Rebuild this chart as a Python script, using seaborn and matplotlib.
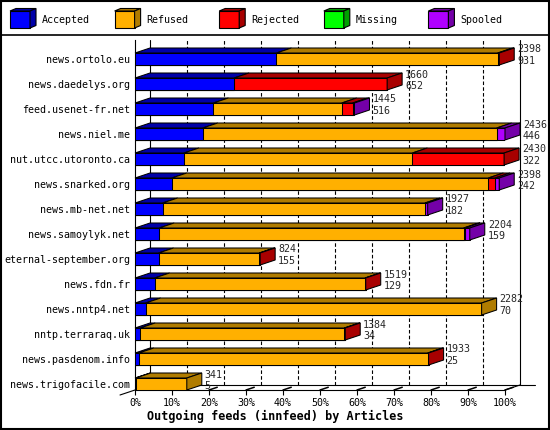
import numpy as np
import pandas as pd
import matplotlib
matplotlib.use("Agg")
import matplotlib.pyplot as plt
from matplotlib.patches import Polygon, Rectangle
import seaborn as sns

# --------------------------------------------------------------
# Data
# --------------------------------------------------------------
servers = [
    "news.ortolo.eu", "news.daedelys.org", "feed.usenet-fr.net", "news.niel.me",
    "nut.utcc.utoronto.ca", "news.snarked.org", "news.mb-net.net", "news.samoylyk.net",
    "eternal-september.org", "news.fdn.fr", "news.nntp4.net", "nntp.terraraq.uk",
    "news.pasdenom.info", "news.trigofacile.com",
]
offered = [2398, 1660, 1445, 2436, 2430, 2398, 1927, 2204, 824, 1519, 2282, 1384, 1933, 341]
accepted = [931, 652, 516, 446, 322, 242, 182, 159, 155, 129, 70, 34, 25, 5]
refused = [1457, 0, 845, 1935, 1504, 2084, 1727, 2005, 663, 1385, 2212, 1344, 1902, 336]
rejected = [10, 1008, 72, 0, 604, 44, 0, 9, 6, 5, 0, 6, 6, 0]
missing = [0, 0, 0, 0, 0, 0, 0, 0, 0, 0, 0, 0, 0, 0]
spooled = [0, 0, 12, 55, 0, 28, 18, 31, 0, 0, 0, 0, 0, 0]

categories = ["Accepted", "Refused", "Rejected", "Missing", "Spooled"]
front_colors = ["#0000ff", "#ffb000", "#ff0000", "#00ff00", "#b000ff"]
dark_colors = ["#0000a8", "#b07c00", "#a80000", "#00a000", "#7400a8"]
pct_labels = [f"{p}%" for p in range(0, 101, 10)]
xlabel = "Outgoing feeds (innfeed) by Articles"

# figure / frame geometry in pixels
W, H, DPI = 550, 430, 100
X0, X1, YTOP, YBOT = 135, 505, 40, 390
DEPTH_X, DEPTH_Y = 15, 5
ROW_PX, BAR_PX = 25, 12
FS = 7.2

sns.set_style("white")
plt.rcParams["font.family"] = ["DejaVu Sans Mono", "DejaVu Sans"]

df = pd.DataFrame({
    "server": servers, "Accepted": accepted, "Refused": refused,
    "Rejected": rejected, "Missing": missing, "Spooled": spooled,
})
seg = df[categories].to_numpy()
cum = seg.cumsum(axis=1)

fig = plt.figure(figsize=(W / DPI, H / DPI), dpi=DPI)
fig.patch.set_facecolor("white")
ax = fig.add_axes([X0 / W, 1 - YBOT / H, (X1 - X0) / W, (YBOT - YTOP) / H])

n = len(servers)
xmax = max(offered)
ux = xmax / (X1 - X0)       # data units per pixel (x)
uy = 1 / ROW_PX             # data units per pixel (y)
dx, dy = DEPTH_X * ux, DEPTH_Y * uy
bar_h = BAR_PX * uy
ylo, yhi = n - 1 + 6 * uy, -19 * uy

# --------------------------------------------------------------
# Front faces: stacked by overdrawing cumulative bars
# --------------------------------------------------------------
for j in range(len(categories) - 1, -1, -1):
    sns.barplot(x=cum[:, j], y=servers, orient="h", color=front_colors[j],
                saturation=1, width=bar_h, edgecolor="black", linewidth=0.75,
                errorbar=None, ax=ax, zorder=3)

# top faces, end faces and value labels
for i in range(n):
    yt, yb = i - bar_h / 2, i + bar_h / 2
    last = 0
    for j in range(len(categories)):
        if seg[i, j] <= 0:
            continue
        last = j
        x0, x1 = cum[i, j] - seg[i, j], cum[i, j]
        ax.add_patch(Polygon([(x0, yt), (x1, yt), (x1 + dx, yt - dy), (x0 + dx, yt - dy)],
                             closed=True, facecolor=dark_colors[j], edgecolor="black",
                             linewidth=0.75, clip_on=False, zorder=3))
    xe = offered[i]
    ax.add_patch(Polygon([(xe, yt), (xe + dx, yt - dy), (xe + dx, yb - dy), (xe, yb)],
                         closed=True, facecolor=dark_colors[last], edgecolor="black",
                         linewidth=0.75, clip_on=False, zorder=3))
    ax.text(xe + dx + 3 * ux, i - 9.5 * uy, str(offered[i]), fontsize=FS,
            va="center", ha="left", zorder=5, clip_on=False)
    ax.text(xe + dx + 3 * ux, i + 2.3 * uy, str(accepted[i]), fontsize=FS,
            va="center", ha="left", zorder=5, clip_on=False)

# --------------------------------------------------------------
# 3D frame: back wall grid and floor
# --------------------------------------------------------------
ticks = np.linspace(0, xmax, 11)
for k, t in enumerate(ticks):
    ls = "-" if k in (0, 10) else (0, (3.2, 2))
    ax.plot([t + dx, t + dx], [ylo - dy, yhi], color="black", lw=0.8, ls=ls,
            zorder=1, clip_on=False)
    if 0 < k:
        ax.plot([t, t + dx * 0.55], [ylo, ylo - dy * 0.55], color="black", lw=1.1,
                zorder=1, clip_on=False)
ax.plot([dx, xmax + 2 * dx], [ylo - dy, ylo - dy], color="black", lw=0.8, zorder=1, clip_on=False)
ax.plot([-dx, dx], [ylo + dy, ylo - dy], color="black", lw=0.8, zorder=1, clip_on=False)
ax.plot([xmax, xmax + dx], [ylo, ylo - dy], color="black", lw=0.8, zorder=1, clip_on=False)

ax.set_xlim(0, xmax)
ax.set_ylim(ylo, yhi)
ax.set_xticks(ticks)
ax.set_xticklabels(pct_labels)
ax.set_xlabel("")
ax.set_ylabel("")
ax.patch.set_alpha(0)
sns.despine(ax=ax)
for s in ("left", "bottom"):
    ax.spines[s].set_color("black")
    ax.spines[s].set_linewidth(0.8)
ax.tick_params(axis="x", bottom=True, length=3.6, width=0.8, color="black",
               labelsize=FS, pad=2, labelcolor="black")
ax.tick_params(axis="y", left=False, length=0, pad=3.6, labelsize=FS, labelcolor="black")

fig.text(0.5, 1 - 416.5 / H, xlabel, ha="center", va="center",
         fontsize=8.5, fontweight="bold", color="black")

# --------------------------------------------------------------
# Legend, separator and border (figure pixel coordinates)
# --------------------------------------------------------------
deco = fig.add_axes([0, 0, 1, 1])
deco.set_xlim(0, W)
deco.set_ylim(H, 0)
deco.axis("off")
deco.patch.set_alpha(0)
for j, name in enumerate(categories):
    bx = 10 + 104.6 * j
    deco.add_patch(Rectangle((bx, 11), 20, 17, facecolor=front_colors[j],
                             edgecolor="black", lw=0.8))
    deco.add_patch(Polygon([(bx, 11), (bx + 20, 11), (bx + 26, 8.5), (bx + 6, 8.5)],
                           facecolor=dark_colors[j], edgecolor="black", lw=0.8))
    deco.add_patch(Polygon([(bx + 20, 11), (bx + 26, 8.5), (bx + 26, 25.5), (bx + 20, 28)],
                           facecolor=dark_colors[j], edgecolor="black", lw=0.8))
    deco.text(bx + 32, 20, name, fontsize=FS, va="center", ha="left", color="black")
deco.plot([0, W], [35, 35], color="black", lw=1.2)
deco.add_patch(Rectangle((0.8, 0.8), W - 2.3, H - 2.3, fill=False, edgecolor="black", lw=1.5))

fig.savefig("out.png", dpi=DPI)
